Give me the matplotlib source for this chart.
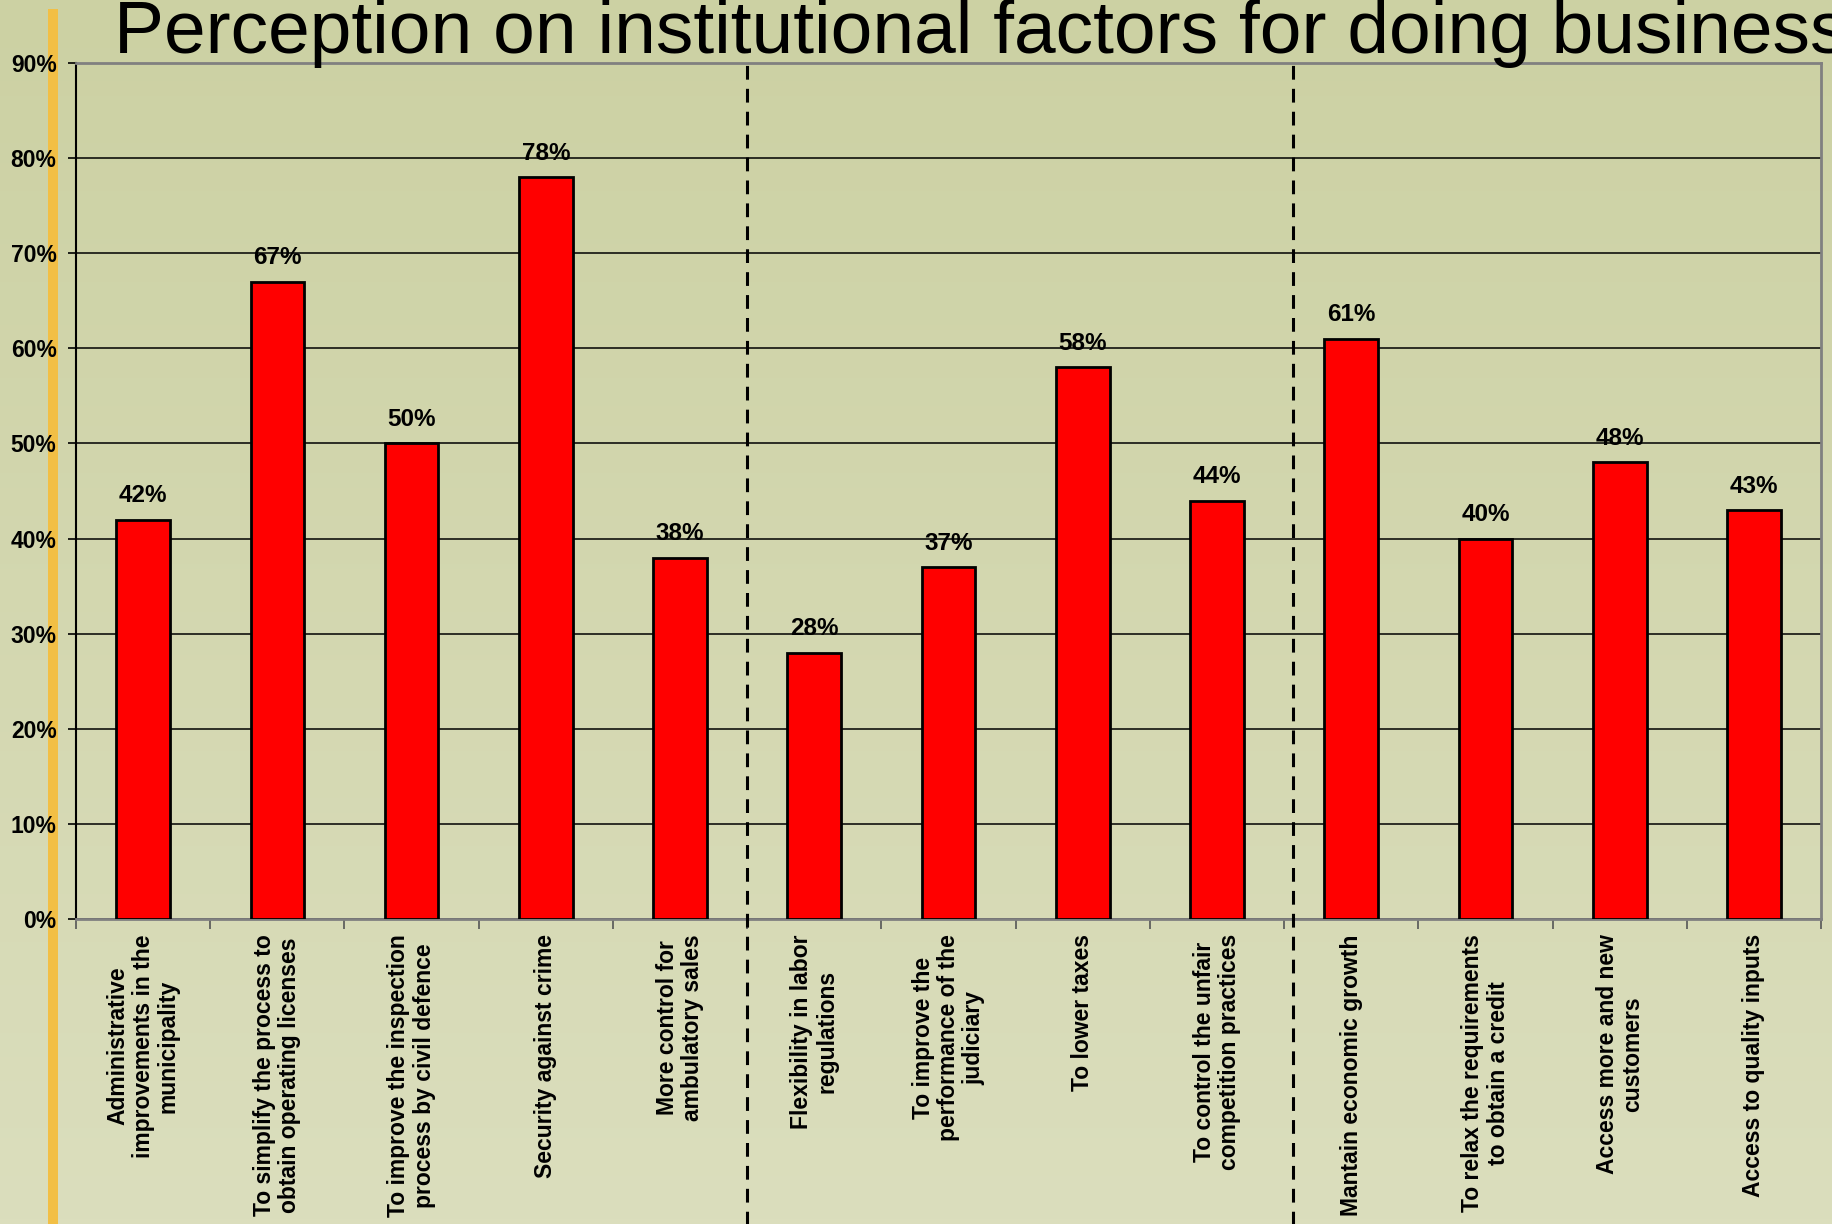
import matplotlib.pyplot as plt
import numpy as np
from matplotlib.patches import Rectangle

plt.rcParams['font.family'] = ['Liberation Sans', 'DejaVu Sans']

# данные опроса
categories = [
    "Administrative\nimprovements in the\nmunicipality",
    "To simplify the process to\nobtain operating licenses",
    "To improve the inspection\nprocess by civil defence",
    "Security against crime",
    "More control for\nambulatory sales",
    "Flexibility in labor\nregulations",
    "To improve the\nperformance of the\njudiciary",
    "To lower taxes",
    "To control the unfair\ncompetition practices",
    "Mantain economic growth",
    "To relax the requirements\nto obtain a credit",
    "Access more and new\ncustomers",
    "Access to quality inputs",
]
values = [42, 67, 50, 78, 38, 28, 37, 58, 44, 61, 40, 48, 43]
y_ticks = [0, 10, 20, 30, 40, 50, 60, 70, 80, 90]
group_breaks = [4.5, 8.57]

fig = plt.figure(figsize=(18.32, 12.24), dpi=100)

# фон с вертикальным градиентом и оранжевая полоса слева
bg = fig.add_axes([0, 0, 1, 1], zorder=-10)
top_c = np.array([204, 209, 163]) / 255
bot_c = np.array([219, 222, 189]) / 255
t = np.linspace(0, 1, 256)[:, None]
grad = top_c * (1 - t[..., None]) + bot_c * t[..., None]
grad = np.repeat(grad, 2, axis=1)
bg.imshow(grad, aspect='auto', extent=[0, 1, 0, 1])
bg.add_patch(Rectangle((48 / 1832, 0), 10 / 1832, 1 - 9 / 1224,
                       transform=bg.transAxes, color='#F2BF45', lw=0))
bg.set_xlim(0, 1)
bg.set_ylim(0, 1)
bg.axis('off')

ax = fig.add_axes([76 / 1832, 305 / 1224, 1745 / 1832, 856 / 1224])
ax.set_facecolor('none')

x = np.arange(len(values))
ax.bar(x, values, width=0.4, color='#FF0000', edgecolor='black', linewidth=2, zorder=3)

for xi, v in zip(x, values):
    ax.annotate(f"{v}%", (xi, v), xytext=(0, 9), textcoords='offset points',
                ha='center', va='bottom', fontsize=17.5, fontweight='bold', zorder=4)

ax.set_xlim(-0.5, len(values) - 0.5)
ax.set_ylim(0, 90)
ax.set_yticks(y_ticks)
ax.set_yticklabels([f"{v}%" for v in y_ticks], fontsize=16.5, fontweight='bold')
ax.yaxis.grid(True, color='black', linewidth=1.1, zorder=1)
ax.set_axisbelow(True)
ax.tick_params(axis='y', direction='out', length=6, width=1.2, pad=8)

# деления по оси X между категориями, подписи отдельно
ax.set_xticks(np.arange(len(values) + 1) - 0.5)
ax.set_xticklabels([])
ax.tick_params(axis='x', direction='out', length=7, width=1.2, color='#555555')

for xi, name in zip(x, categories):
    ax.text(xi, -1.6, name, rotation=90, ha='center', va='top',
            multialignment='center', fontsize=16.5, fontweight='bold',
            linespacing=1.12)

for s in ['top', 'right', 'bottom']:
    ax.spines[s].set_color('#808080')
    ax.spines[s].set_linewidth(2)
ax.spines['left'].set_color('black')
ax.spines['left'].set_linewidth(1.5)

# разделители групп факторов
for b in group_breaks:
    ln = ax.axvline(b, ymin=-0.4, ymax=1, color='black', linewidth=2.2,
                    clip_on=False, zorder=5)
    ln.set_dashes((4.5, 3))

fig.text(114 / 1832, 1 - 53 / 1224, "Perception on institutional factors for doing business",
         fontsize=54, ha='left', va='baseline')

fig.savefig('out.png', dpi=100)
